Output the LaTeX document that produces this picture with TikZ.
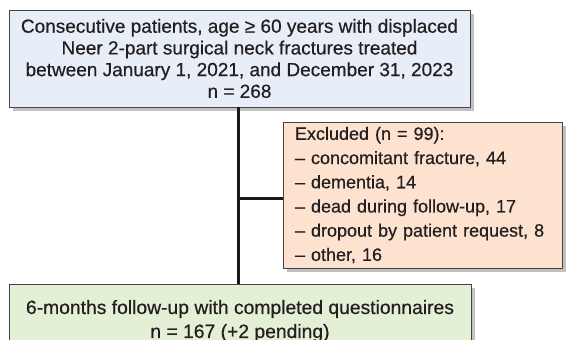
\documentclass[tikz,border=0pt]{standalone}
\usepackage{fontspec}
\setmainfont[FakeBold=0.5]{Liberation Sans}
\usetikzlibrary{shadows,calc}
\definecolor{topfill}{HTML}{E7EEF8}
\definecolor{exfill}{HTML}{FDE2D0}
\definecolor{grfill}{HTML}{E4F0D6}
\definecolor{bordc}{HTML}{444444}
\definecolor{txtc}{HTML}{231F20}
\tikzset{
  flowbox/.style={draw=bordc, line width=0.9pt, text=txtc,
    font=\fontsize{19}{21.7}\selectfont,
    drop shadow={shadow xshift=3.5pt, shadow yshift=-3.5pt, opacity=0.35, fill=black!70},
    inner sep=0pt},
  conn/.style={line width=3pt, draw=black!90}
}
\begin{document}
\begin{tikzpicture}[x=1pt,y=-1pt]
\useasboundingbox (0,0) rectangle (566,340);
\node[flowbox, fill=topfill, minimum width=461pt, minimum height=97pt, align=center]
  (top) at (239.5,58.5)
  {Consecutive patients, age ≥ 60 years with displaced\\
   Neer 2-part surgical neck fractures treated\\
   between January 1, 2021, and December 31, 2023\\
   n = 268};
\node[flowbox, fill=exfill, text width=255pt, inner xsep=12pt, minimum height=146pt,
  align=left, font=\fontsize{18}{24.2}\selectfont]
  (excl) at (422.5,195)
  {Excluded (n = 99):\\
   – concomitant fracture, 44\\
   – dementia, 14\\
   – dead during follow-up, 17\\
   – dropout by patient request, 8\\
   – other, 16};
\node[flowbox, fill=grfill, minimum width=462pt, minimum height=74pt, align=center,
  font=\fontsize{19.3}{24}\selectfont]
  (green) at (240,321)
  {6-months follow-up with completed questionnaires\\
   n = 167 (+2 pending)};
\coordinate (branch) at (top.south |- 0,198);
\draw[conn] (top.south -| 238.5,0) -- (green.north -| 238.5,0);
\draw[conn] (branch -| 238.5,0) -- (branch -| excl.west);
\end{tikzpicture}
\end{document}
